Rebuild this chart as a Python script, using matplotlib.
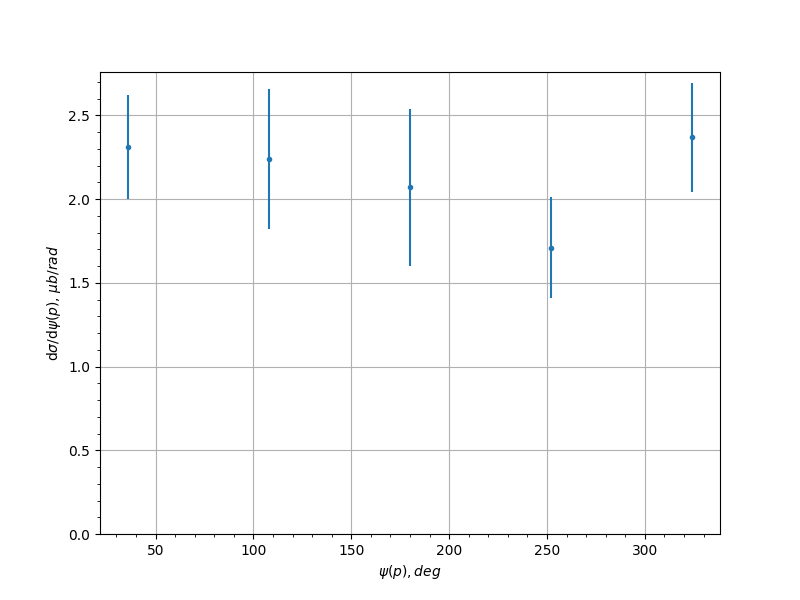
import numpy as np
import matplotlib
matplotlib.use('Agg')
import matplotlib.pyplot as plt

psi = [36, 108, 180, 252, 324]
dsig = [2.31, 2.24, 2.07, 1.71, 2.37]
err = [0.31, 0.42, 0.47, 0.30, 0.325]

fig, ax = plt.subplots(figsize=(8, 6), dpi=100)
ax.errorbar(psi, dsig, yerr=err, fmt='.')
ax.set_ylim(bottom=0)
ax.minorticks_on()
ax.grid(True)
ax.set_xlabel(r'$\psi(p), deg$')
ax.set_ylabel(r'd$\sigma$/d$\psi(p)$, $\mu b/rad$')

plt.savefig('out.png')
